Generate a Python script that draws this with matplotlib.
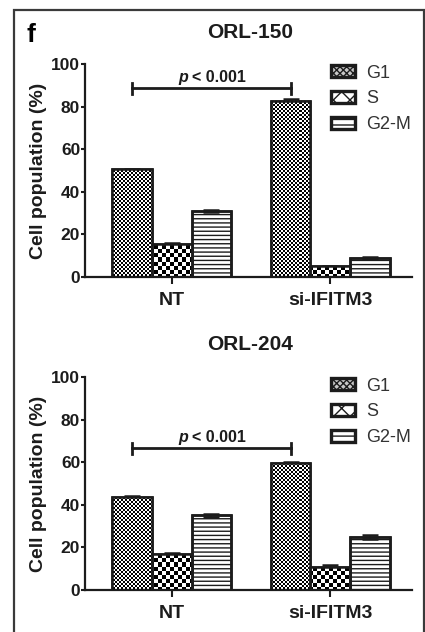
import numpy as np
import matplotlib.pyplot as plt
from matplotlib.patches import Patch, Rectangle

plt.rcParams['font.family'] = ['Liberation Sans', 'DejaVu Sans']
plt.rcParams['hatch.linewidth'] = 1.0

INK = '#1c1c1c'

groups = ["NT", "si-IFITM3"]
phases = ["G1", "S", "G2-M"]

titles = ["ORL-150", "ORL-204"]
# values per panel -> [NT, si-IFITM3]
g1_vals = [[50.5, 82.5], [43.5, 59.5]]
s_vals = [[15.5, 5.0], [17.0, 11.0]]
g2m_vals = [[31.0, 9.0], [35.0, 25.0]]
g1_err = [[0.4, 0.9], [0.8, 0.5]]
s_err = [[0.3, 0.3], [0.4, 0.8]]
g2m_err = [[0.3, 0.4], [0.8, 1.0]]
sig_height = [88.5, 66.5]


def checker(n_y, n_x):
    yy, xx = np.mgrid[0:n_y, 0:n_x]
    return ((yy + xx) % 2).astype(float)


def fill_checker(ax, bar, cell_px):
    # checkerboard texture snapped to whole pixels, clipped to the bar outline
    x0, y0 = bar.get_x(), bar.get_y()
    x1, y1 = x0 + bar.get_width(), y0 + bar.get_height()
    p0 = ax.transData.transform((x0, y0))
    p1 = ax.transData.transform((x1, y1))
    px0, py0 = np.floor(p0[0]) - 1, np.floor(p0[1]) - 1
    nx = int(np.ceil((p1[0] - px0) / cell_px)) + 1
    ny = int(np.ceil((p1[1] - py0) / cell_px)) + 1
    inv = ax.transData.inverted()
    e0 = inv.transform((px0, py0))
    e1 = inv.transform((px0 + nx * cell_px, py0 + ny * cell_px))
    im = ax.imshow(checker(ny, nx), cmap='gray', vmin=0, vmax=1,
                   extent=(e0[0], e1[0], e0[1], e1[1]), interpolation='nearest',
                   aspect='auto', zorder=2.5, origin='lower')
    im.set_clip_path(bar)


fig = plt.figure(figsize=(4.25, 6.32), dpi=100)

# outer frame of the panel
fig.add_artist(Rectangle((14 / 425, -0.01), (424 - 14) / 425, 1 - 10 / 632 + 0.01,
                         transform=fig.transFigure, fill=False,
                         edgecolor='#3a3a3a', linewidth=1.6))
fig.text(31 / 425, 1 - 35 / 632, "f", fontsize=19, fontweight='bold',
         color='black', ha='center', va='center')

axes_rects = [
    [85 / 425, 1 - 277 / 632, 327 / 425, 213 / 632],
    [85 / 425, 1 - 590 / 632, 327 / 425, 213 / 632],
]
title_y = [1 - 32 / 632, 1 - 345 / 632]

x = np.arange(len(groups))
w = 0.25

for k in range(2):
    ax = fig.add_axes(axes_rects[k])
    ax.set_xlim(-0.547, 1.516)
    ax.set_ylim(0, 100)

    vals = [g1_vals[k], s_vals[k], g2m_vals[k]]
    errs = [g1_err[k], s_err[k], g2m_err[k]]
    offs = [-w, 0, w]
    bars = []
    for j in range(3):
        b = ax.bar(x + offs[j], vals[j], w, yerr=errs[j],
                   facecolor='white', edgecolor=INK, linewidth=1.8,
                   hatch='----' if j == 2 else None, zorder=2,
                   error_kw=dict(ecolor=INK, elinewidth=1.5, capsize=6, capthick=1.8))
        bars.append(b)
    fig.canvas.draw()
    for bar in bars[0]:
        fill_checker(ax, bar, 2.0)
    for bar in bars[1]:
        fill_checker(ax, bar, 4.0)
    # outlines on top of textures
    for b in bars:
        for bar in b:
            ax.add_patch(Rectangle((bar.get_x(), 0), bar.get_width(), bar.get_height(),
                                   fill=False, edgecolor=INK, linewidth=1.8, zorder=3))
    ax.set_xlim(-0.547, 1.516)
    ax.set_ylim(0, 100)

    # significance bracket between the G1 bars
    h = sig_height[k]
    xa, xb = x[0] - w, x[1] - w
    ax.plot([xa, xb], [h, h], color=INK, lw=2, zorder=4, clip_on=False)
    for xx in [xa, xb]:
        ax.plot([xx, xx], [h - 2.7, h + 2.7], color=INK, lw=2, zorder=4, clip_on=False)
    xm = (xa + xb) / 2
    ax.annotate("p", (xm, h + 1.6), xytext=(-17, 0), textcoords='offset points',
                ha='right', va='bottom', fontsize=11.5, fontweight='bold',
                fontstyle='italic', color=INK)
    ax.annotate("< 0.001", (xm, h + 1.6), xytext=(-14, 0), textcoords='offset points',
                ha='left', va='bottom', fontsize=11.5, fontweight='bold', color=INK)

    ax.set_xticks(x)
    ax.set_xticklabels(groups, fontsize=14, fontweight='bold', color=INK)
    ax.set_yticks([0, 20, 40, 60, 80, 100])
    ax.set_yticklabels(['0', '20', '40', '60', '80', '100'], fontsize=12.5,
                       fontweight='bold', color=INK)
    ax.tick_params(axis='y', direction='out', length=3, width=1.5, color=INK, pad=0.5)
    ax.tick_params(axis='x', direction='out', length=5, width=1.5, color=INK, pad=6)
    for side in ['top', 'right']:
        ax.spines[side].set_visible(False)
    for side in ['left', 'bottom']:
        ax.spines[side].set_linewidth(1.6)
        ax.spines[side].set_color(INK)
    ax.set_ylabel("Cell population (%)", fontsize=14, fontweight='bold', color=INK, labelpad=3)

    handles = [
        Patch(facecolor='#c8c8c8', edgecolor=INK, linewidth=2.4, hatch='xxxxx'),
        Patch(facecolor='white', edgecolor=INK, linewidth=2.4, hatch='xx'),
        Patch(facecolor='white', edgecolor=INK, linewidth=2.4, hatch='---'),
    ]
    ax.legend(handles, phases, loc='upper left', bbox_to_anchor=(0.752, 0.997),
              frameon=False, fontsize=13, handlelength=1.35, handleheight=0.65,
              labelspacing=0.48, handletextpad=0.6, borderpad=0, borderaxespad=0,
              labelcolor='#333333')

    fig.text(250 / 425, title_y[k], titles[k], fontsize=15, fontweight='bold',
             color=INK, ha='center', va='center')

fig.savefig("out.png", dpi=100)
